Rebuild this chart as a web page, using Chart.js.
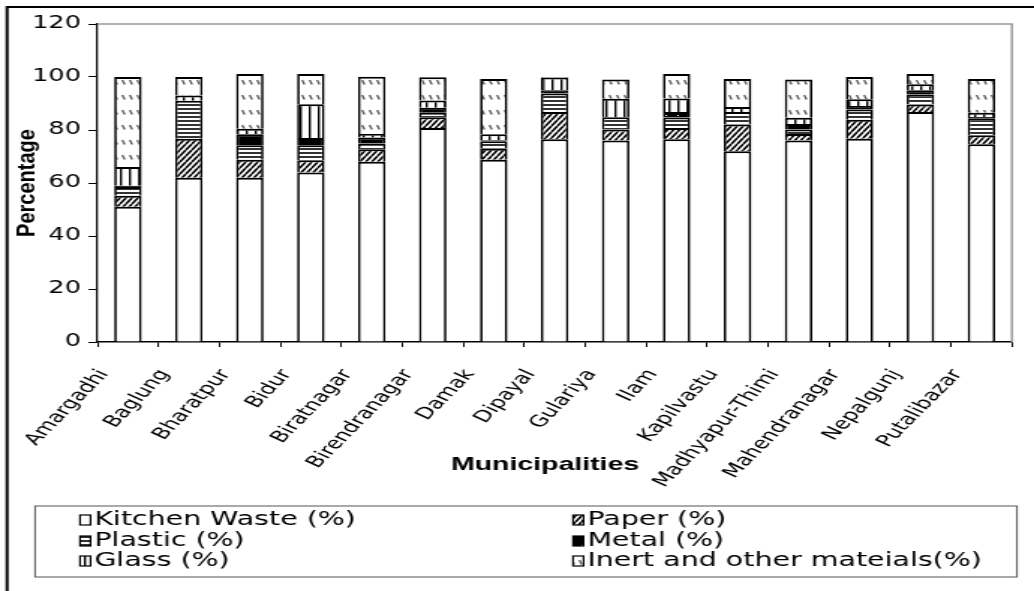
<!DOCTYPE html>
<html>
<head>
<meta charset="utf-8">
<script src="https://cdn.jsdelivr.net/npm/chart.js@4/dist/chart.umd.min.js"></script>
<style>
  html, body { margin: 0; padding: 0; background: #fff; overflow: hidden; }
  /* the chart is laid out on a narrower canvas and widened horizontally */
  #wrap { width: 690px; height: 591px; transform: scaleX(1.4986); transform-origin: 0 0; }
  canvas { display: block; }
</style>
</head>
<body>
<div id="wrap"><canvas id="c" width="690" height="591" style="width:690px;height:591px"></canvas></div>
<script>
// Solid waste composition by municipality (percent)
const municipalities = ['Amargadhi', 'Baglung', 'Bharatpur', 'Bidur', 'Biratnagar', 'Birendranagar', 'Damak',
  'Dipayal', 'Gulariya', 'Ilam', 'Kapilvastu', 'Madhyapur-Thimi', 'Mahendranagar', 'Nepalgunj', 'Putalibazar'];
const kitchenWaste = [51, 62, 62, 64, 68, 80.8, 68.8, 76.5, 76, 76.5, 72, 76, 76.7, 86.8, 74.6];
const paper        = [4.2, 14.7, 6.8, 4.6, 4.7, 4, 4.1, 10.3, 4.2, 4.3, 10.1, 2.5, 7.2, 2.8, 3.4];
const plastic      = [3.3, 14.3, 5.4, 5.6, 2.2, 1.7, 2.9, 7, 4.6, 3.9, 4.7, 1.7, 3.8, 3.8, 6.4];
const metal        = [0.5, 0, 4.2, 2.8, 2.3, 1.9, 0.3, 1.2, 0, 2.1, 0, 2.1, 1.4, 1.6, 0.5];
const glass        = [7, 2, 2.1, 12.7, 1.3, 2.7, 2.3, 4.8, 7, 5.1, 1.9, 2.3, 2.5, 2.3, 1.6];
const inert        = [34, 7, 20.6, 11.4, 21.6, 8.8, 20.8, 0.2, 7.3, 9.2, 10.5, 14.5, 8.4, 3.8, 12.7];
const seriesNames  = ['Kitchen Waste (%)', 'Paper (%)', 'Plastic (%)', 'Metal (%)', 'Glass (%)', 'Inert and other mateials(%)'];
const yTickValues  = [0, 20, 40, 60, 80, 100, 120];
const xTitle = 'Municipalities';
const yTitle = 'Percentage';

const STRETCH = 1.4986;
const canvas = document.getElementById('c');
const mainCtx = canvas.getContext('2d');

// black-and-white hatch fills
function makePattern(w, h, draw) {
  const t = document.createElement('canvas');
  t.width = w; t.height = h;
  const g = t.getContext('2d');
  g.fillStyle = '#fff';
  g.fillRect(0, 0, w, h);
  draw(g, w, h);
  return mainCtx.createPattern(t, 'repeat');
}
const fillKitchen = '#ffffff';
const fillPaper = makePattern(4, 6, (g, w, h) => {
  g.strokeStyle = '#000'; g.lineWidth = 1.6;
  g.beginPath();
  g.moveTo(-w, h); g.lineTo(0, 0);
  g.moveTo(0, h); g.lineTo(w, 0);
  g.moveTo(w, h); g.lineTo(2 * w, 0);
  g.stroke();
});
const fillPlastic = makePattern(2, 4, (g, w) => {
  g.fillStyle = '#333'; g.fillRect(0, 0, w, 2);
});
const fillMetal = makePattern(8, 10, (g, w, h) => {
  g.fillStyle = '#000'; g.fillRect(0, 0, w, h);
  g.fillStyle = '#fff'; g.fillRect(4, 5, 1, 1);
});
const fillGlass = makePattern(6, 4, (g, w, h) => {
  g.fillStyle = '#000'; g.fillRect(2, 0, 1.4, h);
});
const fillInert = makePattern(5, 15, (g) => {
  g.strokeStyle = '#555'; g.lineWidth = 1.3;
  g.beginPath(); g.moveTo(1.6, 5); g.lineTo(3.2, 9.5); g.stroke();
});

const seriesValues = [kitchenWaste, paper, plastic, metal, glass, inert];
const seriesFills = [fillKitchen, fillPaper, fillPlastic, fillMetal, fillGlass, fillInert];

const datasets = seriesNames.map((name, i) => ({
  label: name,
  data: seriesValues[i],
  backgroundColor: seriesFills[i],
  borderColor: '#000',
  borderWidth: { top: 2, bottom: 2, left: 1.7, right: 1.7 },
  borderSkipped: 'start',
  barPercentage: 0.45,
  categoryPercentage: 1.0
}));

// frame, plot-area edge, axis titles and the two-column legend box
const decor = {
  id: 'decor',
  beforeDraw(chart) {
    const ctx = chart.ctx;
    ctx.save();
    ctx.fillStyle = '#fff';
    ctx.fillRect(0, 0, chart.width, chart.height);
    ctx.restore();
  },
  afterDraw(chart) {
    const ctx = chart.ctx;
    const a = chart.chartArea;
    ctx.save();
    ctx.strokeStyle = '#9a9a9a';
    ctx.lineWidth = 1.5;
    ctx.beginPath();
    ctx.moveTo(a.left, a.top);
    ctx.lineTo(a.right, a.top);
    ctx.lineTo(a.right, a.bottom);
    ctx.stroke();

    ctx.strokeStyle = '#000';
    ctx.lineWidth = 2;
    ctx.beginPath();
    ctx.moveTo(4.7, chart.height);
    ctx.lineTo(4.7, 7);
    ctx.lineTo(chart.width, 7);
    ctx.stroke();

    // axis titles
    ctx.fillStyle = '#000';
    ctx.textAlign = 'center';
    ctx.textBaseline = 'middle';
    ctx.font = 'bold 19px "Liberation Sans"';
    ctx.fillText(xTitle, 363.7, 465);
    ctx.save();
    ctx.translate(18.5, (a.top + a.bottom) / 2);
    ctx.scale(1.2 / STRETCH, 1);
    ctx.rotate(-Math.PI / 2);
    ctx.font = 'bold 20px "Liberation Sans"';
    ctx.fillText(yTitle, 0, 0);
    ctx.restore();

    // legend
    const box = { left: 23.4, right: 678.6, top: 506, bottom: 577 };
    ctx.strokeStyle = '#555';
    ctx.lineWidth = 1;
    ctx.strokeRect(box.left, box.top, box.right - box.left, box.bottom - box.top);
    const colX = [53.4, 382.4];
    const rowY = [520, 541, 561];
    ctx.font = '19px "DejaVu Sans"';
    ctx.textBaseline = 'middle';
    ctx.textAlign = 'left';
    chart.data.datasets.forEach((ds, i) => {
      const x = colX[i % 2];
      const y = rowY[Math.floor(i / 2)];
      ctx.fillStyle = ds.backgroundColor;
      ctx.fillRect(x, y - 5, 7, 10);
      ctx.strokeStyle = '#000';
      ctx.lineWidth = 1.2;
      ctx.strokeRect(x, y - 5, 7, 10);
      ctx.fillStyle = '#000';
      ctx.fillText(ds.label, x + 9.5, y);
    });
    ctx.restore();
  }
};

new Chart(canvas, {
  type: 'bar',
  data: { labels: municipalities, datasets },
  plugins: [decor],
  options: {
    responsive: false,
    devicePixelRatio: 1,
    animation: false,
    layout: { padding: { left: 0, right: 6, top: 24, bottom: 99 } },
    plugins: { legend: { display: false }, tooltip: { enabled: false } },
    scales: {
      x: {
        stacked: true,
        offset: true,
        grid: { display: true, drawOnChartArea: false, drawTicks: true, tickLength: 5, color: '#000', lineWidth: 1, offset: true },
        border: { display: true, color: '#000', width: 1.5 },
        ticks: {
          autoSkip: false, minRotation: 56, maxRotation: 56, labelOffset: -16, padding: 19,
          color: '#000', font: { family: 'DejaVu Sans', size: 16 }
        },
        afterFit: (s) => { s.height = 150; }
      },
      y: {
        stacked: true,
        min: yTickValues[0],
        max: yTickValues[yTickValues.length - 1],
        afterBuildTicks: (s) => { s.ticks = yTickValues.map(v => ({ value: v })); },
        grid: { display: true, drawOnChartArea: false, drawTicks: true, tickLength: 6, color: '#000', lineWidth: 1 },
        border: { display: true, color: '#111', width: 1.3 },
        ticks: { padding: 5, color: '#000', font: { family: 'DejaVu Sans', size: 17 } },
        afterFit: (s) => { s.width = 65; }
      }
    }
  }
});
</script>
</body>
</html>
